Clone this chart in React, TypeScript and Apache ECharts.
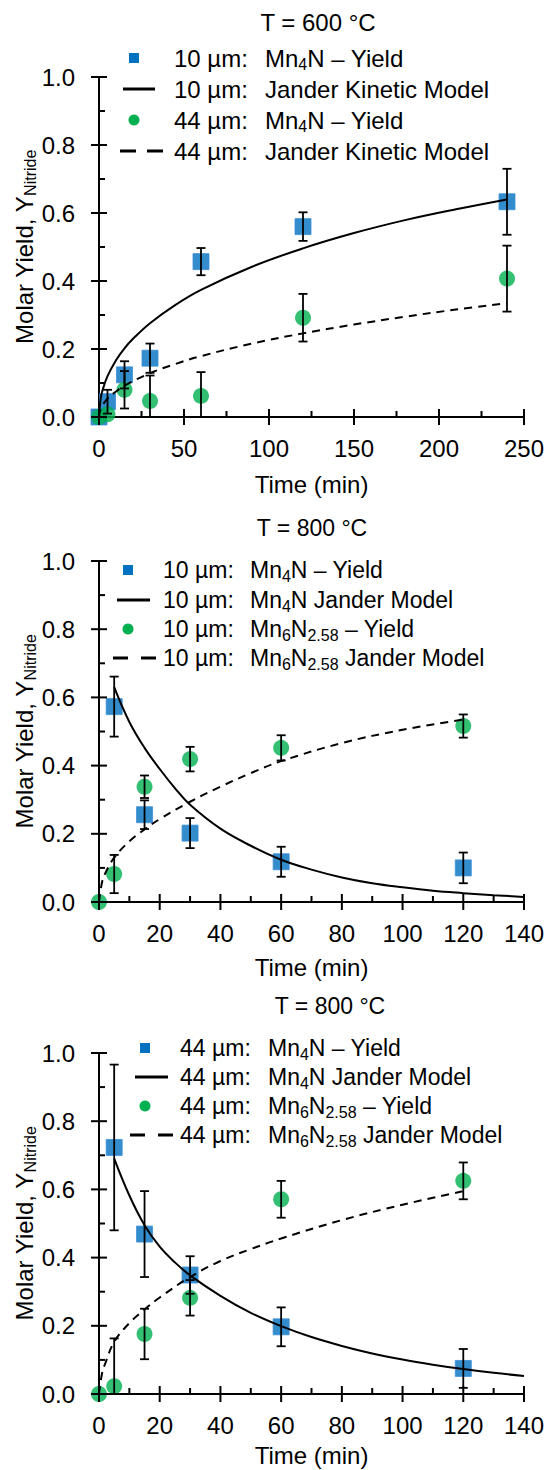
import React, { useEffect, useRef } from 'react';
import * as echarts from 'echarts';

// ---------- DATA ----------
// Panel 1: T = 600 °C
const p1BlueT = [0, 5, 15, 30, 60, 120, 240];
const p1BlueY = [0, 0.045, 0.124, 0.173, 0.457, 0.56, 0.633];
const p1BlueErr = [0, 0.035, 0.04, 0.043, 0.04, 0.042, 0.097];
const p1GreenT = [0, 5, 15, 30, 60, 120, 240];
const p1GreenY = [0, 0.008, 0.08, 0.047, 0.062, 0.292, 0.407];
const p1GreenErr = [0, 0, 0.055, 0.075, 0.07, 0.07, 0.097];
const p1SolidT = [0, 1, 2, 5, 10, 15, 20, 30, 45, 60, 90, 120, 150, 180, 210, 240];
const p1SolidY = [0, 0.055, 0.077, 0.12, 0.167, 0.202, 0.23, 0.276, 0.33, 0.374, 0.442, 0.496, 0.541, 0.579, 0.611, 0.64];
const p1DashT = [0, 1, 5, 10, 15, 30, 45, 60, 90, 120, 150, 180, 210, 240];
const p1DashY = [0, 0.024, 0.054, 0.075, 0.092, 0.129, 0.156, 0.179, 0.216, 0.246, 0.272, 0.295, 0.316, 0.335];

// Panel 2: T = 800 °C, 10 µm
const p2BlueT = [5, 15, 30, 60, 120];
const p2BlueY = [0.573, 0.256, 0.202, 0.118, 0.1];
const p2BlueErr = [0.088, 0.042, 0.044, 0.044, 0.045];
const p2GreenT = [0, 5, 15, 30, 60, 120];
const p2GreenY = [0, 0.082, 0.338, 0.419, 0.452, 0.516];
const p2GreenErr = [0, 0.056, 0.033, 0.036, 0.037, 0.034];
const p2SolidT = [5, 10, 15, 20, 25, 30, 40, 50, 60, 70, 80, 90, 100, 110, 120, 130, 140];
const p2SolidY = [0.63, 0.528, 0.452, 0.39, 0.334, 0.285, 0.215, 0.165, 0.124, 0.095, 0.072, 0.055, 0.043, 0.033, 0.026, 0.02, 0.015];
const p2DashT = [0, 1, 2, 5, 10, 15, 20, 30, 40, 50, 60, 80, 100, 120];
const p2DashY = [0, 0.058, 0.083, 0.13, 0.178, 0.213, 0.243, 0.294, 0.338, 0.378, 0.413, 0.466, 0.505, 0.535];

// Panel 3: T = 800 °C, 44 µm
const p3BlueT = [5, 15, 30, 60, 120];
const p3BlueY = [0.723, 0.469, 0.349, 0.197, 0.075];
const p3BlueErr = [0.243, 0.126, 0.055, 0.057, 0.057];
const p3GreenT = [0, 5, 15, 30, 60, 120];
const p3GreenY = [0, 0.023, 0.176, 0.282, 0.571, 0.625];
const p3GreenErr = [0, 0.14, 0.074, 0.052, 0.054, 0.054];
const p3SolidT = [5, 10, 15, 20, 25, 30, 40, 50, 60, 70, 80, 90, 100, 110, 120, 130, 140];
const p3SolidY = [0.69, 0.582, 0.495, 0.432, 0.386, 0.348, 0.288, 0.238, 0.199, 0.167, 0.141, 0.119, 0.101, 0.086, 0.073, 0.062, 0.053];
const p3DashT = [0, 1, 2, 5, 10, 15, 20, 30, 40, 50, 60, 80, 100, 120];
const p3DashY = [0, 0.06, 0.088, 0.153, 0.208, 0.248, 0.283, 0.343, 0.39, 0.425, 0.456, 0.51, 0.555, 0.595];

// Axis ticks
const p1XMajor = [0, 50, 100, 150, 200, 250];
const p1XMinor = [25, 75, 125, 175, 225];
const p23XMajor = [0, 20, 40, 60, 80, 100, 120, 140];
const p23XMinor = [10, 30, 50, 70, 90, 110, 130];
const yMajor = [0, 0.2, 0.4, 0.6, 0.8, 1.0];
const yMinor = [0.1, 0.3, 0.5, 0.7, 0.9];

const titles = ['T = 600 °C', 'T = 800 °C', 'T = 800 °C'];
const legendSize = [
  ['10 µm:', '10 µm:', '44 µm:', '44 µm:'],
  ['10 µm:', '10 µm:', '10 µm:', '10 µm:'],
  ['44 µm:', '44 µm:', '44 µm:', '44 µm:'],
];
const legendName = [
  ['Mn{s|4}N – Yield', 'Jander Kinetic Model', 'Mn{s|4}N – Yield', 'Jander Kinetic Model'],
  ['Mn{s|4}N – Yield', 'Mn{s|4}N Jander Model', 'Mn{s|6}N{s|2.58} – Yield', 'Mn{s|6}N{s|2.58} Jander Model'],
  ['Mn{s|4}N – Yield', 'Mn{s|4}N Jander Model', 'Mn{s|6}N{s|2.58} – Yield', 'Mn{s|6}N{s|2.58} Jander Model'],
];
const xMaxes = [250, 140, 140];
const xIntervals = [50, 20, 20];
const yTitle = 'Molar Yield, Y{s|Nitride}';
const xTitle = 'Time (min)';

// ---------- LAYOUT ----------
const FONT = '"Liberation Sans", Arial, Helvetica, sans-serif';
const BLUE = '#0070C0';
const GREEN = '#00B050';
const TICK_COLOR = '#000';
const LAYOUT = [
  { top: 77, height: 340, titleX: 318, titleY: 22, fs: 24, timeGap: 67, legY: [58, 89, 120, 151], symX: 134, lineX: [123, 155], dashX: [120, 164], dash: [16, 11], t1X: 174, t2X: 265 },
  { top: 561, height: 341, titleX: 312, titleY: 528, fs: 23, timeGap: 65, legY: [570, 600, 629, 658], symX: 128, lineX: [117, 150], dashX: [113, 156], dash: [15, 13], t1X: 163, t2X: 250 },
  { top: 1053, height: 341, titleX: 330, titleY: 1006, fs: 23, timeGap: 61, legY: [1048, 1077, 1106, 1135], symX: 145, lineX: [135, 168], dashX: [130, 173], dash: [15, 13], t1X: 180, t2X: 268 },
];
const GRID_LEFT = 99;
const GRID_W = 425;
const MAJOR_LEN = 8;
const MINOR_LEN = 6;

const zip = (a: number[], b: number[]) => a.map((v, i) => [v, b[i]]);
const zip3 = (a: number[], b: number[], c: number[]) => a.map((v, i) => [v, b[i], c[i]]);

const panelsData = [
  { bt: p1BlueT, by: p1BlueY, be: p1BlueErr, gt: p1GreenT, gy: p1GreenY, ge: p1GreenErr, st: p1SolidT, sy: p1SolidY, dt: p1DashT, dy: p1DashY, xMaj: p1XMajor, xMin: p1XMinor },
  { bt: p2BlueT, by: p2BlueY, be: p2BlueErr, gt: p2GreenT, gy: p2GreenY, ge: p2GreenErr, st: p2SolidT, sy: p2SolidY, dt: p2DashT, dy: p2DashY, xMaj: p23XMajor, xMin: p23XMinor },
  { bt: p3BlueT, by: p3BlueY, be: p3BlueErr, gt: p3GreenT, gy: p3GreenY, ge: p3GreenErr, st: p3SolidT, sy: p3SolidY, dt: p3DashT, dy: p3DashY, xMaj: p23XMajor, xMin: p23XMinor },
];

function txt(text: string, x: number, y: number, fs: number, align = 'left', rotation = 0) {
  return {
    type: 'text',
    x, y, rotation,
    silent: true,
    style: {
      text,
      fill: '#000',
      fontSize: fs,
      fontFamily: FONT,
      align,
      verticalAlign: 'middle',
      lineHeight: 28,
      rich: {
        s: { fontSize: 16, fontFamily: FONT, lineHeight: 16, verticalAlign: 'bottom', fill: '#000' },
      },
    },
  };
}

const errRender = (params: any, api: any) => {
  const x = api.value(0) as number;
  const y = api.value(1) as number;
  const e = api.value(2) as number;
  if (!e) return { type: 'group', children: [] };
  const hi = api.coord([x, y + e]);
  const lo = api.coord([x, Math.max(0, y - e)]);
  const w = 4.5;
  const st = { stroke: '#000', lineWidth: 1.8 };
  return {
    type: 'group',
    children: [
      { type: 'line', shape: { x1: hi[0], y1: hi[1], x2: lo[0], y2: lo[1] }, style: st },
      { type: 'line', shape: { x1: hi[0] - w, y1: hi[1], x2: hi[0] + w, y2: hi[1] }, style: st },
      { type: 'line', shape: { x1: lo[0] - w, y1: lo[1], x2: lo[0] + w, y2: lo[1] }, style: st },
    ],
  };
};

// axis ticks drawn by a custom series through the chart's own scales:
// major ticks cross the axis line, minor ticks point inward.
// item: [x, y, isMajor, isXAxisTick]
const tickRender = (params: any, api: any) => {
  const x = api.value(0) as number;
  const y = api.value(1) as number;
  const major = (api.value(2) as number) === 1;
  const isX = (api.value(3) as number) === 1;
  const p = api.coord([x, y]);
  const out = major ? MAJOR_LEN : 0;
  const inn = major ? MAJOR_LEN : MINOR_LEN;
  const shape = isX
    ? { x1: p[0], y1: p[1] + out, x2: p[0], y2: p[1] - inn }
    : { x1: p[0] - out, y1: p[1], x2: p[0] + inn, y2: p[1] };
  return {
    type: 'group',
    children: [{ type: 'line', shape, style: { stroke: TICK_COLOR, lineWidth: 2 } }],
  };
};

function baseGraphics(): any[] {
  const graphics: any[] = [];
  LAYOUT.forEach((L, i) => {
    graphics.push(txt(titles[i], L.titleX, L.titleY, L.fs, 'center'));
    graphics.push(txt(xTitle, GRID_LEFT + GRID_W / 2, L.top + L.height + L.timeGap, 24, 'center'));
    graphics.push(txt(yTitle, 24, L.top + L.height / 2, 24, 'center', Math.PI / 2));
    const [r0, r1, r2, r3] = L.legY;
    graphics.push({ type: 'rect', silent: true, shape: { x: L.symX - 5, y: r0 - 5, width: 10, height: 10 }, style: { fill: BLUE } });
    graphics.push({ type: 'line', silent: true, shape: { x1: L.lineX[0], y1: r1, x2: L.lineX[1], y2: r1 }, style: { stroke: '#000', lineWidth: 3 } });
    graphics.push({ type: 'circle', silent: true, shape: { cx: L.symX, cy: r2, r: 5.5 }, style: { fill: GREEN } });
    graphics.push({ type: 'line', silent: true, shape: { x1: L.dashX[0], y1: r3, x2: L.dashX[1], y2: r3 }, style: { stroke: '#000', lineWidth: 3, lineDash: L.dash } });
    L.legY.forEach((ry, k) => {
      graphics.push(txt(legendSize[i][k], L.t1X, ry, L.fs));
      graphics.push(txt(legendName[i][k], L.t2X, ry, L.fs));
    });
  });
  return graphics;
}

function buildOption() {
  const grid: any[] = [];
  const xAxis: any[] = [];
  const yAxis: any[] = [];
  const series: any[] = [];
  const axLine = { color: '#000', width: 2 };

  LAYOUT.forEach((L, i) => {
    grid.push({ left: GRID_LEFT, top: L.top, width: GRID_W, height: L.height, containLabel: false, outerBoundsMode: 'none' });
    xAxis.push({
      gridIndex: i, type: 'value', min: 0, max: xMaxes[i], interval: xIntervals[i],
      splitLine: { show: false },
      axisLine: { show: true, onZero: false, lineStyle: { ...axLine } },
      axisTick: { show: false },
      minorTick: { show: false },
      axisLabel: { show: true, margin: 19, fontSize: 24, color: '#000', fontFamily: FONT },
    });
    yAxis.push({
      gridIndex: i, type: 'value', min: 0, max: 1, interval: 0.2,
      splitLine: { show: false },
      axisLine: { show: true, onZero: false, lineStyle: { ...axLine } },
      axisTick: { show: false },
      minorTick: { show: false },
      axisLabel: { show: true, margin: 24, fontSize: 24, color: '#000', fontFamily: FONT, formatter: (v: number) => v.toFixed(1) },
    });

    const d = panelsData[i];
    const ax = { xAxisIndex: i, yAxisIndex: i };

    series.push({
      type: 'scatter', ...ax, data: zip(d.bt, d.by),
      symbol: 'rect', symbolSize: 16, itemStyle: { color: BLUE, borderColor: '#3d8fd6', borderWidth: 1 }, clip: false, z: 2,
    });
    series.push({
      type: 'scatter', ...ax, data: zip(d.gt, d.gy),
      symbol: 'circle', symbolSize: 16, itemStyle: { color: GREEN }, clip: false, z: 2,
    });
    series.push({
      type: 'custom', ...ax, data: zip3(d.bt, d.by, d.be),
      renderItem: errRender, encode: { x: 0, y: 1 }, clip: false, z: 3, silent: true,
    });
    series.push({
      type: 'custom', ...ax, data: zip3(d.gt, d.gy, d.ge),
      renderItem: errRender, encode: { x: 0, y: 1 }, clip: false, z: 3, silent: true,
    });
    series.push({
      type: 'custom', ...ax, clip: false, z: 6, silent: true,
      data: [
        ...d.xMaj.map((v) => [v, 0, 1, 1]),
        ...d.xMin.map((v) => [v, 0, 0, 1]),
        ...yMajor.map((v) => [0, v, 1, 0]),
        ...yMinor.map((v) => [0, v, 0, 0]),
      ],
      encode: { x: 0, y: 1 },
      renderItem: tickRender,
    });
    series.push({
      type: 'line', ...ax, data: zip(d.st, d.sy),
      showSymbol: false, symbol: 'none', smooth: 0.4,
      lineStyle: { color: '#000', width: 2 }, z: 4, silent: true,
    });
    series.push({
      type: 'line', ...ax, data: zip(d.dt, d.dy),
      showSymbol: false, symbol: 'none', smooth: 0.4,
      lineStyle: { color: '#000', width: 2, type: [8, 6] }, z: 4, silent: true,
    });
  });

  return {
    animation: false,
    backgroundColor: '#fff',
    grid,
    xAxis,
    yAxis,
    series,
    graphic: { elements: baseGraphics() },
  };
}

export default function App() {
  const ref = useRef<HTMLDivElement>(null);
  useEffect(() => {
    if (!ref.current) return;
    const chart = echarts.init(ref.current, null, { renderer: 'svg' });
    chart.setOption(buildOption() as any);
    return () => chart.dispose();
  }, []);
  return (
    <div
      ref={ref}
      style={{ position: 'absolute', left: 0, top: 0, width: 547, height: 1470, background: '#fff' }}
    />
  );
}
